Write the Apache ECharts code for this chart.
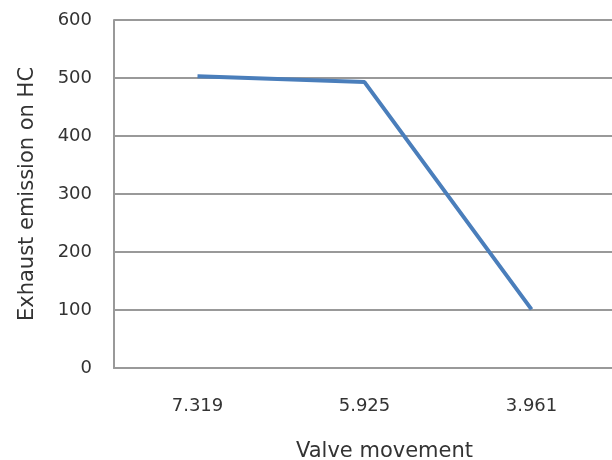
<!DOCTYPE html>
<html>
<head>
<meta charset="utf-8">
<script src="https://cdn.jsdelivr.net/npm/echarts@6/dist/echarts.min.js"></script>
<style>
  html, body { margin: 0; padding: 0; background: #fff; }
  #chart { width: 612px; height: 460px; }
</style>
</head>
<body>
<div id="chart"></div>
<script>
// data
const categories = ["7.319", "5.925", "3.961"];
const hcValues = [503, 493, 101];
const yTicks = { min: 0, max: 600, interval: 100 };

const chart = echarts.init(document.getElementById("chart"), null, { renderer: "canvas" });

chart.setOption({
  animation: false,
  textStyle: { fontFamily: "DejaVu Sans" },
  grid: { left: 114, top: 20, width: 501, height: 348, outerBoundsMode: "none" },
  xAxis: {
    type: "category",
    data: categories,
    boundaryGap: true,
    name: "Valve movement",
    nameLocation: "middle",
    nameGap: 73,
    // title sits a bit right of the plot centre in the original
    nameTextStyle: { fontSize: 21, color: "#333", padding: [0, 0, 0, 40] },
    axisLine: { lineStyle: { color: "#999", width: 2 } },
    axisTick: { show: false },
    axisLabel: { fontSize: 18, color: "#333", margin: 29 },
  },
  yAxis: {
    type: "value",
    min: yTicks.min,
    max: yTicks.max,
    interval: yTicks.interval,
    name: "Exhaust emission on HC",
    nameLocation: "middle",
    nameGap: 76,
    nameTextStyle: { fontSize: 21, color: "#333" },
    axisLine: { show: true, lineStyle: { color: "#999", width: 2 } },
    axisTick: { show: false },
    axisLabel: { fontSize: 18, color: "#333", margin: 22 },
    splitLine: { lineStyle: { color: "#999", width: 2 } },
  },
  series: [
    {
      type: "line",
      data: hcValues,
      symbol: "none",
      lineStyle: { color: "#4a7ebb", width: 4 },
    },
  ],
});
</script>
</body>
</html>
